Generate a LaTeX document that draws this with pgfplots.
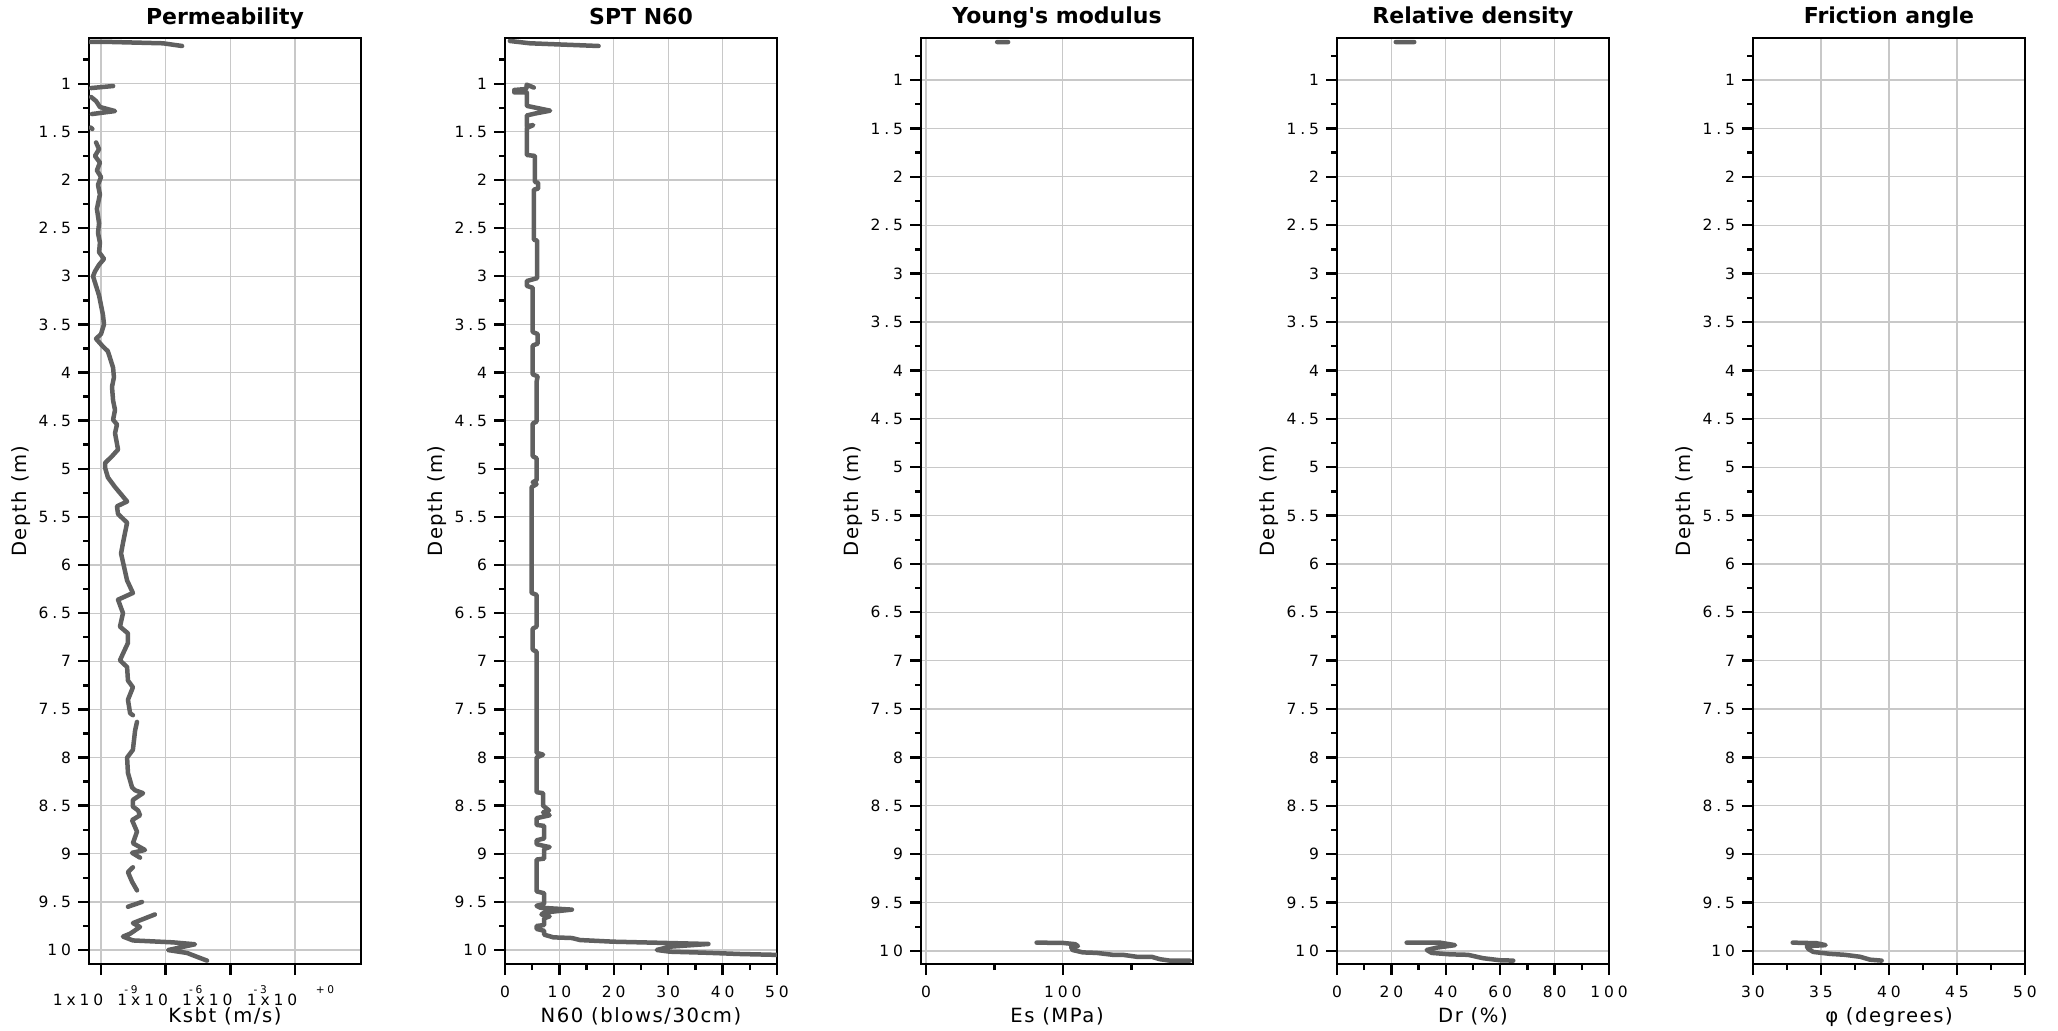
\documentclass[border=0pt]{standalone}
\usepackage{pgfplots}
\pgfplotsset{compat=1.18}
\usepackage{fontspec}
\setmainfont{DejaVu Sans}
\newfontfamily\tickfont[LetterSpace=25]{DejaVu Sans}
\newfontfamily\labfont[LetterSpace=8]{DejaVu Sans}
\definecolor{trace}{RGB}{96,96,96}
\definecolor{gridc}{RGB}{200,200,200}
\newcommand\klab[1]{\makebox[0pt]{\hspace*{-23pt}1x10}\makebox[0pt]{\hspace*{30pt}\raisebox{6pt}{\fontsize{5.3}{6}\selectfont #1}}}
\pgfplotsset{
 geo/.style={
  scale only axis, width=136pt, height=463pt,
  y dir=reverse,
  axis line style={line width=1.3pt},
  every tick/.style={black, line width=1.2pt},
  tick align=outside,
  major tick length=5.5pt, minor tick length=3pt,
  xtick pos=bottom, ytick pos=left,
  ytick={1,1.5,...,10}, minor ytick={0.75,1.25,...,9.75},
  grid=major, major grid style={gridc, line width=0.6pt},
  /pgf/number format/assume math mode=true,
  ticklabel style={font=\tickfont\fontsize{7.75}{9}\selectfont},
  xticklabel style={yshift=-2pt},
  ylabel={Depth (m)},
  ylabel style={at={(axis description cs:-0.25,0.5)}, anchor=center, font=\labfont\fontsize{9.8}{12}\selectfont},
  xlabel style={at={(axis description cs:0.5,0)}, anchor=base, yshift=-29pt, font=\labfont\fontsize{9.8}{12}\selectfont},
  title style={at={(axis description cs:0.5,1)}, anchor=base, yshift=1pt, font=\bfseries\fontsize{11}{13}\selectfont},
  unbounded coords=jump,
  every axis plot post/.append style={trace, line width=2.25pt, line join=round, line cap=round, mark=none},
 }
}
\begin{document}
\begin{tikzpicture}
\path[use as bounding box] (0,0) rectangle (1029pt,515pt);
% Permeability
\begin{axis}[geo, at={(44.5pt,33pt)}, anchor=south west,
  xmin=-9.557, xmax=3.06, ymin=0.525, ymax=10.145,
  xtick={-9,-6,-3,0}, xticklabels={\klab{-9},\klab{-6},\klab{-3},\klab{+0}},
  title={Permeability}, xlabel={Ksbt (m/s)}]
\addplot table {
x y
-9.51 0.564
-8.58 0.566
-6.12 0.580
-5.24 0.608
nan nan
-9.46 1.045
-8.44 1.024
nan nan
-9.46 1.138
-9.23 1.180
-9.05 1.242
-8.35 1.284
-9.42 1.315
nan nan
-9.48 1.455
-9.40 1.470
nan nan
-9.23 1.61
-9.09 1.68
-9.28 1.75
-9.05 1.82
-9.19 1.90
-9.00 1.97
-9.14 2.05
-9.05 2.15
-9.19 2.30
-9.09 2.45
-9.14 2.55
-9.05 2.65
-9.09 2.75
-8.86 2.82
-9.09 2.88
-9.28 2.95
-9.37 3.00
-9.23 3.10
-9.09 3.20
-9.00 3.30
-8.91 3.40
-8.86 3.50
-9.00 3.60
-9.23 3.65
-8.95 3.72
-8.68 3.78
-8.58 3.85
-8.44 3.95
-8.40 4.05
-8.49 4.15
-8.44 4.29
-8.35 4.39
-8.44 4.49
-8.26 4.54
-8.35 4.63
-8.21 4.80
-8.49 4.87
-8.81 4.94
-8.81 4.99
-8.68 5.09
-8.35 5.19
-7.79 5.34
-8.26 5.39
-8.21 5.47
-7.79 5.56
-7.89 5.67
-7.98 5.77
-8.07 5.88
-7.93 6.02
-7.79 6.16
-7.52 6.29
-8.21 6.36
-7.98 6.50
-8.12 6.64
-7.75 6.71
-7.75 6.81
-7.98 6.92
-8.12 6.99
-7.79 7.06
-7.75 7.20
-7.52 7.27
-7.75 7.40
-7.65 7.54
-7.52 7.56
nan nan
-7.33 7.63
-7.42 7.72
-7.47 7.82
-7.52 7.92
-7.79 8.00
-7.75 8.16
-7.56 8.31
-7.42 8.34
-7.05 8.37
-7.52 8.44
-7.52 8.51
-7.28 8.55
-7.19 8.60
-7.56 8.65
-7.33 8.77
-7.52 8.89
-6.96 8.96
-7.56 8.99
-7.19 9.04
nan nan
-7.52 9.14
-7.75 9.19
-7.56 9.29
-7.33 9.38
nan nan
-7.10 9.50
-7.75 9.55
nan nan
-6.50 9.63
-7.52 9.72
-7.19 9.76
-7.65 9.83
-7.98 9.86
-7.52 9.90
-5.66 9.92
-4.64 9.94
-5.89 10.00
-5.01 10.03
-4.55 10.07
-4.08 10.11
};
\end{axis}
% SPT N60
\begin{axis}[geo, at={(252.5pt,33pt)}, anchor=south west,
  xmin=0, xmax=50, ymin=0.525, ymax=10.145,
  xtick={0,10,...,50}, minor xtick={5,15,...,45},
  title={SPT N60}, xlabel={N60 (blows/30cm)}]
\addplot table {
x y
0.9 0.556
4.6 0.580
17.2 0.608
nan nan
5.3 1.04
4.0 1.01
3.9 1.055
1.7 1.065
1.7 1.09
4.0 1.09
4.0 1.23
8.3 1.28
5.5 1.31
4.0 1.33
4.0 1.44
5.2 1.43
4.0 1.46
4.0 1.74
5.5 1.75
5.5 2.02
6.1 2.03
6.1 2.09
5.3 2.10
5.3 2.62
5.9 2.63
5.9 3.02
4.0 3.05
4.0 3.10
5.1 3.12
5.1 3.58
6.0 3.60
6.0 3.70
5.1 3.72
5.1 4.02
6.0 4.04
5.8 4.10
5.8 4.51
5.1 4.53
5.1 4.87
5.8 4.89
5.8 5.12
5.1 5.14
5.8 5.16
4.9 5.19
4.9 6.29
5.8 6.31
5.8 6.64
5.1 6.66
5.1 6.88
5.8 6.90
5.8 7.95
7.0 7.97
5.8 8.00
5.8 8.36
7.0 8.37
7.0 8.50
8.1 8.55
7.0 8.57
8.2 8.60
5.8 8.63
5.8 8.70
7.2 8.71
7.2 8.84
5.8 8.86
5.8 8.90
7.3 8.92
8.2 8.93
7.2 8.95
7.2 9.05
5.8 9.06
5.8 9.39
7.2 9.41
7.2 9.52
5.8 9.54
6.5 9.56
12.3 9.58
7.2 9.61
6.7 9.63
8.2 9.65
7.2 9.67
7.2 9.74
5.8 9.75
5.8 9.78
7.2 9.80
7.2 9.84
8.9 9.868
12.3 9.875
13.8 9.896
19.9 9.913
37.4 9.937
30.3 9.965
27.9 9.999
30.3 10.017
36.5 10.027
43.2 10.041
49.9 10.05
60 10.06
};
\end{axis}
% Young's modulus
\begin{axis}[geo, at={(460.5pt,33pt)}, anchor=south west,
  xmin=-3.6, xmax=195, ymin=0.565, ymax=10.135,
  xtick={0,100}, minor xtick={50,150},
  title={Young\textquotesingle s modulus}, xlabel={Es (MPa)}]
\addplot table {
x y
52 0.607
60 0.607
nan nan
80.8 9.914
100 9.917
109 9.93
111 9.95
106 9.96
107 9.99
114.6 10.015
124.6 10.02
136.5 10.04
143.8 10.04
153.8 10.06
164.7 10.06
170.8 10.085
178 10.10
192.7 10.10
};
\end{axis}
% Relative density
\begin{axis}[geo, at={(668.5pt,33pt)}, anchor=south west,
  xmin=0, xmax=100, ymin=0.565, ymax=10.135,
  xtick={0,20,...,100}, minor xtick={10,30,...,90},
  title={Relative density}, xlabel={Dr (\%)}]
\addplot table {
x y
21.6 0.607
28.4 0.607
nan nan
25.6 9.914
37.9 9.914
43.4 9.94
36.6 9.966
33.0 9.99
34.8 10.02
41.5 10.035
48.2 10.04
53.7 10.075
59.9 10.096
64.8 10.10
};
\end{axis}
% Friction angle
\begin{axis}[geo, at={(876.5pt,33pt)}, anchor=south west,
  xmin=30, xmax=50, ymin=0.565, ymax=10.135,
  xtick={30,35,...,50}, minor xtick={32.5,37.5,42.5,47.5},
  title={Friction angle}, xlabel={φ (degrees)}]
\addplot table {
x y
32.92 9.914
34.68 9.92
35.34 9.94
33.95 9.95
34.07 9.98
34.43 10.01
35.66 10.03
36.76 10.04
37.87 10.06
38.6 10.09
39.46 10.10
};
\end{axis}
\end{tikzpicture}
\end{document}
